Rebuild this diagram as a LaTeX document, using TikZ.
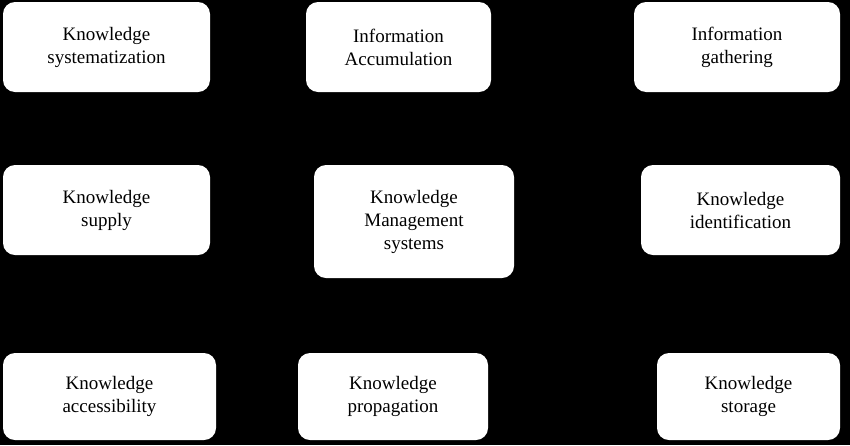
\documentclass[tikz,border=0pt]{standalone}
\usepackage{fontspec}
\setmainfont{Liberation Serif}
\begin{document}
\begin{tikzpicture}[x=1pt,y=-1pt,
  box/.style={fill=white,draw=none,rounded corners=12pt,align=center,font=\fontsize{19}{23}\selectfont}]
\fill[black] (0,0) rectangle (850,445);
\useasboundingbox (0,0) rectangle (850,445);
\newcommand{\bx}[6]{\fill[white,rounded corners=12pt] (#2,#3) rectangle (#4,#5); \node[box,fill=none] (#1) at ({(#2+#4)/2},{(#3+#5)/2}) {#6};}
\bx{a}{3}{2}{210}{92}{Knowledge\\systematization}
\bx{b}{306}{2}{491}{92}{Information\\Accumulation}
\bx{c}{634}{2}{840}{92}{Information\\gathering}
\bx{d}{3}{165}{210}{255}{Knowledge\\supply}
\bx{e}{314}{165}{514}{278}{Knowledge\\Management\\systems}
\bx{f}{641}{165}{840}{255}{Knowledge\\identification}
\bx{g}{3}{353}{216}{440}{Knowledge\\accessibility}
\bx{h}{298}{353}{488}{440}{Knowledge\\propagation}
\bx{i}{657}{353}{840}{440}{Knowledge\\storage}
\end{tikzpicture}
\end{document}
